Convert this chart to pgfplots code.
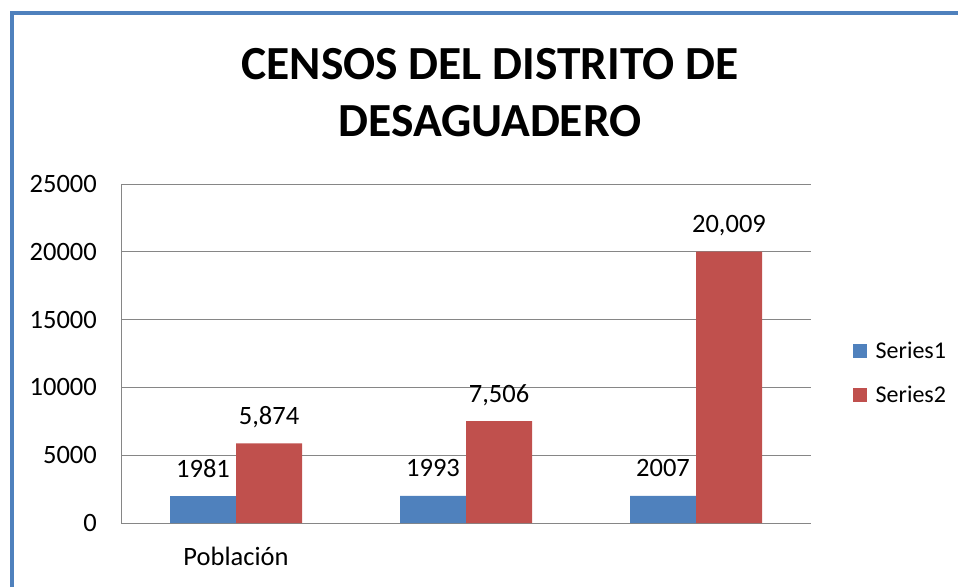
\documentclass[border=0pt]{standalone}
\usepackage{fontspec}
\setmainfont{Carlito}
\usepackage{pgfplots}
\pgfplotsset{compat=1.18}
\definecolor{sblue}{RGB}{79,129,189}
\definecolor{sred}{RGB}{192,80,77}
\definecolor{gridc}{RGB}{134,134,134}
\pgfkeys{/pgf/number format/.cd, assume math mode=true}
\begin{document}
\begin{tikzpicture}[x=1pt,y=1pt]
\path[use as bounding box] (0,0) rectangle (958,587);
\draw[sblue, line width=4pt] (11.5,0) -- (11.5,573.5) -- (958,573.5);
\node[font=\fontsize{47.5}{57}\selectfont\bfseries, align=center, anchor=center] at (490,494) {CENSOS DEL DISTRITO DE\\DESAGUADERO};
\begin{axis}[
  at={(121pt,64pt)}, anchor=south west, scale only axis,
  width=690pt, height=339pt,
  ymin=0, ymax=25000, xmin=-0.5, xmax=2.5,
  ytick={0,5000,...,25000}, xtick={0}, xticklabels={Población},
  scaled y ticks=false,
  axis lines=left, axis line style={-, draw=gridc, line width=1pt},
  major tick length=0pt,
  ymajorgrids, grid style={gridc, line width=1pt},
  tick label style={font=\fontsize{26.5}{32}\selectfont, text=black},
  yticklabel style={inner sep=0pt, xshift=-24pt, /pgf/number format/1000 sep={}},
  xticklabel style={inner sep=0pt, yshift=-24pt},
  legend style={at={(1.061,0.443)}, anchor=west, draw=none, fill=none, inner sep=0pt,
    font=\fontsize{24}{28}\selectfont, row sep=22pt},
  legend cell align=left,
  every node near coord/.append style={font=\fontsize{26.5}{32}\selectfont, text=black},
]
\addplot[ybar, bar width=66pt, bar shift=-33pt, fill=sblue, draw=none, forget plot,
  nodes near coords={\pgfmathprintnumber[1000 sep={}]{\pgfplotspointmeta}},
  nodes near coords style={anchor=base, inner sep=0pt, yshift=19pt, xshift=-33pt}]
  coordinates {(0,1981) (1,1993) (2,2007)};
\addplot[ybar, bar width=66pt, bar shift=33pt, fill=sred, draw=none, forget plot,
  nodes near coords={\pgfmathprintnumber[1000 sep={,}]{\pgfplotspointmeta}},
  nodes near coords style={anchor=base, inner sep=0pt, yshift=19pt, xshift=33pt}]
  coordinates {(0,5874) (1,7506) (2,20009)};
\addlegendimage{legend image code/.code={\fill[sblue] (0pt,-6.5pt) rectangle (13pt,6.5pt); \path (20pt,0pt);}}
\addlegendentry{Series1}
\addlegendimage{legend image code/.code={\fill[sred] (0pt,-6.5pt) rectangle (13pt,6.5pt); \path (20pt,0pt);}}
\addlegendentry{Series2}
\end{axis}
\end{tikzpicture}
\end{document}
